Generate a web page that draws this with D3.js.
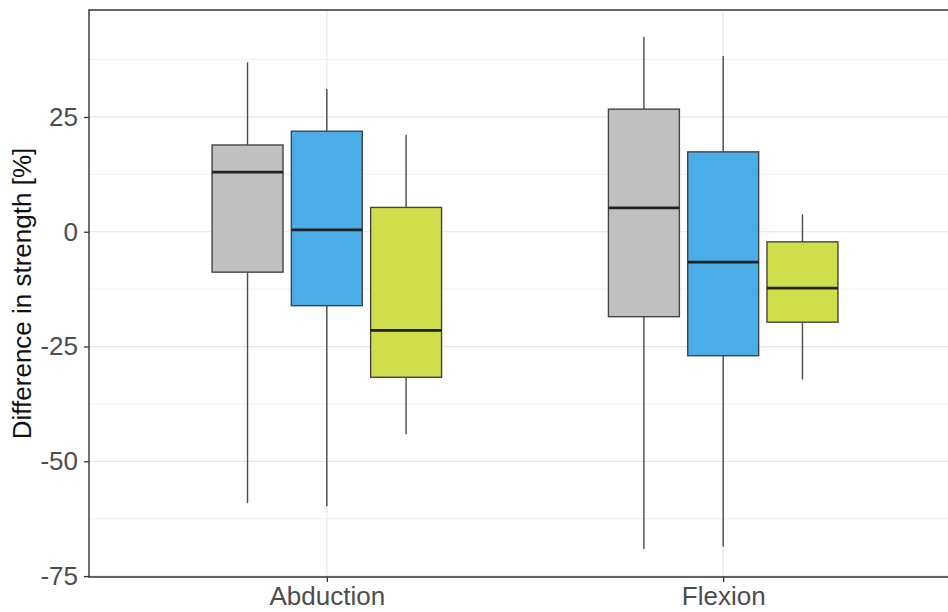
<!DOCTYPE html>
<html>
<head>
<meta charset="utf-8">
<script src="https://cdn.jsdelivr.net/npm/d3@7"></script>
<style>
  body { margin: 0; background: #fff; }
  svg { display: block; font-family: Arial, "Liberation Sans", sans-serif; }
</style>
</head>
<body>
<div id="container"></div>
<script>
// data
const movements = ['Abduction', 'Flexion'];
const groups = ['A', 'B', 'C'];
const groupColors = ['#c0c0c0', '#4aade8', '#d0de4b'];

// per movement, per group: [lowWhisker, q1, median, q3, highWhisker]
const abductionStats = [
    [-59.1, -8.8, 13.0, 18.9, 36.9],
    [-59.8, -16.1, 0.4, 21.9, 31.1],
    [-44.1, -31.7, -21.5, 5.3, 21.1]
];
const flexionStats = [
    [-69.1, -18.5, 5.2, 26.7, 42.5],
    [-68.6, -27.0, -6.6, 17.4, 38.3],
    [-32.2, -19.7, -12.3, -2.2, 3.8]
];
const yTicks = [-75, -50, -25, 0, 25];
const yMinor = [-62.5, -37.5, -12.5, 12.5, 37.5];

const width = 948, height = 612;
const margin = { top: 10, left: 89, bottom: 35 };
const panelRight = 961; // the source image is cropped on the right

const svg = d3.select('#container')
    .append('svg')
    .attr('width', width)
    .attr('height', height);

const y = d3.scaleLinear()
    .domain([-75.2, 48.3])
    .range([height - margin.bottom, margin.top]);

// discrete axis like ggplot: categories at 1 and 2, range 0.4..2.6
const xc = d3.scaleLinear()
    .domain([0.4, 2.6])
    .range([margin.left, panelRight]);

const dodge = 0.2;
const boxW = 0.179;

const rows = [];
[abductionStats, flexionStats].forEach((stats, mi) => {
    stats.forEach((s, gi) => {
        rows.push({ movement: movements[mi], group: groups[gi], color: groupColors[gi],
            pos: mi + 1 + (gi - 1) * dodge, lo: s[0], q1: s[1], med: s[2], q3: s[3], hi: s[4] });
    });
});

// grid
const grid = svg.append('g');
grid.selectAll('.minor')
    .data(yMinor)
    .enter().append('line')
    .attr('x1', margin.left).attr('x2', width)
    .attr('y1', d => y(d)).attr('y2', d => y(d))
    .attr('stroke', '#f0f0f0').attr('stroke-width', 1);
grid.selectAll('.major')
    .data(yTicks)
    .enter().append('line')
    .attr('x1', margin.left).attr('x2', width)
    .attr('y1', d => y(d)).attr('y2', d => y(d))
    .attr('stroke', '#e6e6e6').attr('stroke-width', 1.2);
grid.selectAll('.vmajor')
    .data(movements)
    .enter().append('line')
    .attr('x1', (d, i) => xc(i + 1)).attr('x2', (d, i) => xc(i + 1))
    .attr('y1', y.range()[0]).attr('y2', y.range()[1])
    .attr('stroke', '#e6e6e6').attr('stroke-width', 1.2);

// boxes
const box = svg.selectAll('.box')
    .data(rows)
    .enter().append('g');

box.append('line')
    .attr('x1', d => xc(d.pos)).attr('x2', d => xc(d.pos))
    .attr('y1', d => y(d.hi)).attr('y2', d => y(d.q3))
    .attr('stroke', '#4a4a4a').attr('stroke-width', 1.4);
box.append('line')
    .attr('x1', d => xc(d.pos)).attr('x2', d => xc(d.pos))
    .attr('y1', d => y(d.q1)).attr('y2', d => y(d.lo))
    .attr('stroke', '#4a4a4a').attr('stroke-width', 1.4);
box.append('rect')
    .attr('x', d => xc(d.pos - boxW / 2))
    .attr('width', d => xc(d.pos + boxW / 2) - xc(d.pos - boxW / 2))
    .attr('y', d => y(d.q3))
    .attr('height', d => y(d.q1) - y(d.q3))
    .attr('fill', d => d.color)
    .attr('stroke', '#444').attr('stroke-width', 1.4);
box.append('line')
    .attr('x1', d => xc(d.pos - boxW / 2)).attr('x2', d => xc(d.pos + boxW / 2))
    .attr('y1', d => y(d.med)).attr('y2', d => y(d.med))
    .attr('stroke', '#222').attr('stroke-width', 2.8);

// panel border (left, top, bottom; right is cropped)
svg.append('path')
    .attr('d', `M${width},${margin.top}H${margin.left}V${y.range()[0]}H${width}`)
    .attr('fill', 'none')
    .attr('stroke', '#333').attr('stroke-width', 1.4);

// axes
const yAxis = svg.append('g')
    .attr('transform', `translate(${margin.left},0)`)
    .call(d3.axisLeft(y).tickValues(yTicks).tickSize(5).tickPadding(6).tickFormat(d => String(d)));
yAxis.select('.domain').remove();
yAxis.selectAll('line').attr('stroke', '#333').attr('stroke-width', 1.3);
yAxis.selectAll('text').attr('fill', '#4d4d4d').style('font-size', '26px');

const xAxis = svg.append('g')
    .attr('transform', `translate(0,${y.range()[0]})`)
    .call(d3.axisBottom(xc).tickValues([1, 2]).tickSize(5).tickPadding(5)
        .tickFormat(d => movements[d - 1]));
xAxis.select('.domain').remove();
xAxis.selectAll('line').attr('stroke', '#333').attr('stroke-width', 1.3);
xAxis.selectAll('text').attr('fill', '#4d4d4d').style('font-size', '26px');

svg.append('text')
    .attr('transform', `translate(31,${(y.range()[0] + y.range()[1]) / 2}) rotate(-90)`)
    .attr('text-anchor', 'middle')
    .attr('fill', '#111')
    .style('font-size', '26px')
    .text('Difference in strength [%]');
</script>
</body>
</html>
